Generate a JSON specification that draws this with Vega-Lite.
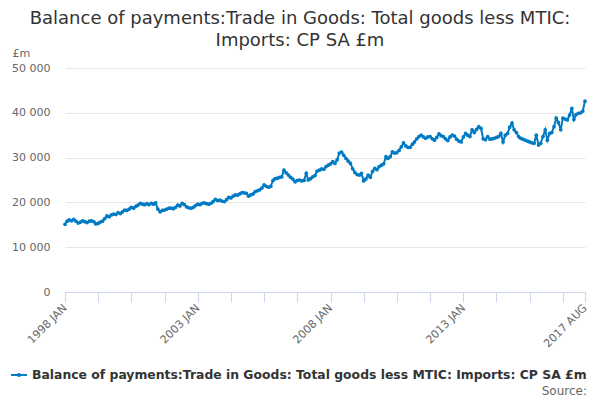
{
 "$schema": "https://vega.github.io/schema/vega-lite/v6.json",
 "width": 520, "height": 224,
 "autosize": {"type": "none"},
 "padding": {"left": 65, "top": 68, "right": 15, "bottom": 108},
 "background": "white",
 "config": {
  "font": "DejaVu Sans",
  "view": {"stroke": null},
  "locale": {"number": {"decimal": ".", "thousands": " ", "grouping": [3], "currency": ["£", ""]}}
 },
 "title": {
  "text": ["Balance of payments:Trade in Goods: Total goods less MTIC:", "Imports: CP SA £m"],
  "fontSize": 18, "fontWeight": "normal", "color": "#333333", "anchor": "middle", "dx": -25, "dy": 3, "offset": 0, "lineHeight": 22
 },
 "data": {"values": [
{"d":"1998-01-01","v":15100},{"d":"1998-02-01","v":15800},{"d":"1998-03-01","v":16100},{"d":"1998-04-01","v":15900},{"d":"1998-05-01","v":16200},{"d":"1998-06-01","v":15800},{"d":"1998-07-01","v":15400},{"d":"1998-08-01","v":15600},{"d":"1998-09-01","v":15900},{"d":"1998-10-01","v":15700},{"d":"1998-11-01","v":15500},{"d":"1998-12-01","v":15800},
{"d":"1999-01-01","v":15900},{"d":"1999-02-01","v":15700},{"d":"1999-03-01","v":15200},{"d":"1999-04-01","v":15300},{"d":"1999-05-01","v":15600},{"d":"1999-06-01","v":15800},{"d":"1999-07-01","v":16400},{"d":"1999-08-01","v":17000},{"d":"1999-09-01","v":16800},{"d":"1999-10-01","v":17200},{"d":"1999-11-01","v":17400},{"d":"1999-12-01","v":17300},
{"d":"2000-01-01","v":17700},{"d":"2000-02-01","v":17500},{"d":"2000-03-01","v":17900},{"d":"2000-04-01","v":18300},{"d":"2000-05-01","v":18200},{"d":"2000-06-01","v":18500},{"d":"2000-07-01","v":18900},{"d":"2000-08-01","v":18700},{"d":"2000-09-01","v":19100},{"d":"2000-10-01","v":19400},{"d":"2000-11-01","v":19800},{"d":"2000-12-01","v":19600},
{"d":"2001-01-01","v":19500},{"d":"2001-02-01","v":19700},{"d":"2001-03-01","v":19500},{"d":"2001-04-01","v":19800},{"d":"2001-05-01","v":19600},{"d":"2001-06-01","v":19900},{"d":"2001-07-01","v":18500},{"d":"2001-08-01","v":17900},{"d":"2001-09-01","v":18200},{"d":"2001-10-01","v":18300},{"d":"2001-11-01","v":18500},{"d":"2001-12-01","v":18700},
{"d":"2002-01-01","v":18700},{"d":"2002-02-01","v":18600},{"d":"2002-03-01","v":18900},{"d":"2002-04-01","v":19400},{"d":"2002-05-01","v":19200},{"d":"2002-06-01","v":19800},{"d":"2002-07-01","v":19500},{"d":"2002-08-01","v":19000},{"d":"2002-09-01","v":18800},{"d":"2002-10-01","v":18700},{"d":"2002-11-01","v":18900},{"d":"2002-12-01","v":19300},
{"d":"2003-01-01","v":19600},{"d":"2003-02-01","v":19500},{"d":"2003-03-01","v":19800},{"d":"2003-04-01","v":19900},{"d":"2003-05-01","v":19700},{"d":"2003-06-01","v":19600},{"d":"2003-07-01","v":19800},{"d":"2003-08-01","v":20200},{"d":"2003-09-01","v":20700},{"d":"2003-10-01","v":20400},{"d":"2003-11-01","v":20500},{"d":"2003-12-01","v":20300},
{"d":"2004-01-01","v":20200},{"d":"2004-02-01","v":20600},{"d":"2004-03-01","v":21100},{"d":"2004-04-01","v":21000},{"d":"2004-05-01","v":21400},{"d":"2004-06-01","v":21700},{"d":"2004-07-01","v":21600},{"d":"2004-08-01","v":21900},{"d":"2004-09-01","v":22200},{"d":"2004-10-01","v":22100},{"d":"2004-11-01","v":22000},{"d":"2004-12-01","v":21400},
{"d":"2005-01-01","v":21700},{"d":"2005-02-01","v":21900},{"d":"2005-03-01","v":22400},{"d":"2005-04-01","v":22600},{"d":"2005-05-01","v":22800},{"d":"2005-06-01","v":23200},{"d":"2005-07-01","v":23900},{"d":"2005-08-01","v":23600},{"d":"2005-09-01","v":23400},{"d":"2005-10-01","v":23600},{"d":"2005-11-01","v":24900},{"d":"2005-12-01","v":25300},
{"d":"2006-01-01","v":25400},{"d":"2006-02-01","v":25600},{"d":"2006-03-01","v":25700},{"d":"2006-04-01","v":27200},{"d":"2006-05-01","v":26600},{"d":"2006-06-01","v":26100},{"d":"2006-07-01","v":25600},{"d":"2006-08-01","v":25200},{"d":"2006-09-01","v":24600},{"d":"2006-10-01","v":24900},{"d":"2006-11-01","v":25000},{"d":"2006-12-01","v":24800},
{"d":"2007-01-01","v":24900},{"d":"2007-02-01","v":26500},{"d":"2007-03-01","v":25000},{"d":"2007-04-01","v":25300},{"d":"2007-05-01","v":25700},{"d":"2007-06-01","v":26000},{"d":"2007-07-01","v":27000},{"d":"2007-08-01","v":27200},{"d":"2007-09-01","v":27500},{"d":"2007-10-01","v":27400},{"d":"2007-11-01","v":28000},{"d":"2007-12-01","v":28300},
{"d":"2008-01-01","v":28600},{"d":"2008-02-01","v":29100},{"d":"2008-03-01","v":28700},{"d":"2008-04-01","v":29500},{"d":"2008-05-01","v":31000},{"d":"2008-06-01","v":31200},{"d":"2008-07-01","v":30500},{"d":"2008-08-01","v":29800},{"d":"2008-09-01","v":29200},{"d":"2008-10-01","v":28700},{"d":"2008-11-01","v":27500},{"d":"2008-12-01","v":26700},
{"d":"2009-01-01","v":26200},{"d":"2009-02-01","v":26100},{"d":"2009-03-01","v":26500},{"d":"2009-04-01","v":24800},{"d":"2009-05-01","v":25200},{"d":"2009-06-01","v":26100},{"d":"2009-07-01","v":25600},{"d":"2009-08-01","v":26900},{"d":"2009-09-01","v":27600},{"d":"2009-10-01","v":27300},{"d":"2009-11-01","v":28000},{"d":"2009-12-01","v":28300},
{"d":"2010-01-01","v":28600},{"d":"2010-02-01","v":30200},{"d":"2010-03-01","v":29800},{"d":"2010-04-01","v":30200},{"d":"2010-05-01","v":31300},{"d":"2010-06-01","v":31000},{"d":"2010-07-01","v":31100},{"d":"2010-08-01","v":31600},{"d":"2010-09-01","v":32400},{"d":"2010-10-01","v":33300},{"d":"2010-11-01","v":32600},{"d":"2010-12-01","v":32300},
{"d":"2011-01-01","v":32300},{"d":"2011-02-01","v":33000},{"d":"2011-03-01","v":33500},{"d":"2011-04-01","v":34200},{"d":"2011-05-01","v":34700},{"d":"2011-06-01","v":35000},{"d":"2011-07-01","v":34600},{"d":"2011-08-01","v":34300},{"d":"2011-09-01","v":34600},{"d":"2011-10-01","v":34700},{"d":"2011-11-01","v":34200},{"d":"2011-12-01","v":33900},
{"d":"2012-01-01","v":34500},{"d":"2012-02-01","v":35300},{"d":"2012-03-01","v":34900},{"d":"2012-04-01","v":34700},{"d":"2012-05-01","v":34200},{"d":"2012-06-01","v":33800},{"d":"2012-07-01","v":34600},{"d":"2012-08-01","v":35000},{"d":"2012-09-01","v":34800},{"d":"2012-10-01","v":34100},{"d":"2012-11-01","v":33700},{"d":"2012-12-01","v":33500},
{"d":"2013-01-01","v":34600},{"d":"2013-02-01","v":35400},{"d":"2013-03-01","v":35000},{"d":"2013-04-01","v":34700},{"d":"2013-05-01","v":36200},{"d":"2013-06-01","v":35600},{"d":"2013-07-01","v":36300},{"d":"2013-08-01","v":36900},{"d":"2013-09-01","v":36500},{"d":"2013-10-01","v":34200},{"d":"2013-11-01","v":34000},{"d":"2013-12-01","v":34700},
{"d":"2014-01-01","v":34100},{"d":"2014-02-01","v":34200},{"d":"2014-03-01","v":34300},{"d":"2014-04-01","v":34500},{"d":"2014-05-01","v":34700},{"d":"2014-06-01","v":35400},{"d":"2014-07-01","v":33500},{"d":"2014-08-01","v":35000},{"d":"2014-09-01","v":35400},{"d":"2014-10-01","v":36800},{"d":"2014-11-01","v":37700},{"d":"2014-12-01","v":36200},
{"d":"2015-01-01","v":35600},{"d":"2015-02-01","v":34700},{"d":"2015-03-01","v":34300},{"d":"2015-04-01","v":34100},{"d":"2015-05-01","v":33900},{"d":"2015-06-01","v":33700},{"d":"2015-07-01","v":33500},{"d":"2015-08-01","v":33300},{"d":"2015-09-01","v":33200},{"d":"2015-10-01","v":35000},{"d":"2015-11-01","v":32800},{"d":"2015-12-01","v":33200},
{"d":"2016-01-01","v":34700},{"d":"2016-02-01","v":36200},{"d":"2016-03-01","v":33900},{"d":"2016-04-01","v":35400},{"d":"2016-05-01","v":35600},{"d":"2016-06-01","v":36900},{"d":"2016-07-01","v":38800},{"d":"2016-08-01","v":37800},{"d":"2016-09-01","v":36200},{"d":"2016-10-01","v":38800},{"d":"2016-11-01","v":38600},{"d":"2016-12-01","v":38400},
{"d":"2017-01-01","v":39500},{"d":"2017-02-01","v":41000},{"d":"2017-03-01","v":38500},{"d":"2017-04-01","v":39600},{"d":"2017-05-01","v":39900},{"d":"2017-06-01","v":40000},{"d":"2017-07-01","v":40400},{"d":"2017-08-01","v":42600}
 ]},
 "mark": {"type": "line", "strokeWidth": 2, "point": {"size": 14, "filled": true}},
 "encoding": {
  "x": {
   "field": "d", "type": "temporal",
   "scale": {"type": "utc", "domain": [{"year": 1998, "month": 1, "date": 1, "utc": true}, {"year": 2017, "month": 8, "date": 1, "utc": true}]},
   "axis": {
    "title": null,
    "grid": false,
    "values": [
     {"year": 1998, "month": 1, "date": 1, "utc": true}, {"year": 1999, "month": 4, "date": 1, "utc": true},
     {"year": 2000, "month": 7, "date": 1, "utc": true}, {"year": 2001, "month": 10, "date": 1, "utc": true},
     {"year": 2003, "month": 1, "date": 1, "utc": true}, {"year": 2004, "month": 4, "date": 1, "utc": true},
     {"year": 2005, "month": 7, "date": 1, "utc": true}, {"year": 2006, "month": 10, "date": 1, "utc": true},
     {"year": 2008, "month": 1, "date": 1, "utc": true}, {"year": 2009, "month": 4, "date": 1, "utc": true},
     {"year": 2010, "month": 7, "date": 1, "utc": true}, {"year": 2011, "month": 10, "date": 1, "utc": true},
     {"year": 2013, "month": 1, "date": 1, "utc": true}, {"year": 2014, "month": 4, "date": 1, "utc": true},
     {"year": 2015, "month": 7, "date": 1, "utc": true}, {"year": 2016, "month": 10, "date": 1, "utc": true},
     {"year": 2017, "month": 8, "date": 1, "utc": true}
    ],
    "labelExpr": "(utcFormat(datum.value, '%m') == '01' || utcFormat(datum.value, '%Y-%m') == '2017-08') ? utcFormat(datum.value, '%Y ') + upper(utcFormat(datum.value, '%b')) : ''",
    "labelAngle": -45, "labelAlign": "right", "labelBaseline": "middle",
    "labelFontSize": 11, "labelColor": "#666666", "labelPadding": 4, "labelOverlap": false, "labelFlush": false,
    "domainColor": "#ccd6eb", "tickColor": "#ccd6eb", "tickSize": 10, "tickWidth": 1
   }
  },
  "y": {
   "field": "v", "type": "quantitative",
   "scale": {"domain": [0, 50000]},
   "axis": {
    "values": [0, 10000, 20000, 30000, 40000, 50000],
    "format": ",d",
    "title": "£m", "titleAngle": 0, "titleX": -53, "titleY": -15, "titleAlign": "left", "titleBaseline": "middle",
    "titleFontSize": 11, "titleFontWeight": "normal", "titleColor": "#666666",
    "domain": false, "ticks": false, "labelPadding": 15,
    "labelFontSize": 11, "labelColor": "#666666",
    "gridColor": "#e6e6e6"
   }
  },
  "color": {
   "datum": "Balance of payments:Trade in Goods: Total goods less MTIC: Imports: CP SA £m",
   "scale": {"range": ["#007ac3"]},
   "legend": {
    "orient": "none", "legendX": -55, "legendY": 298, "direction": "horizontal",
    "title": "Source:", "titleOrient": "bottom", "titleAnchor": "end", "titleFontWeight": "normal",
    "titleFontSize": 12, "titleColor": "#666666", "titlePadding": 5,
    "labelFontSize": 12.4, "labelFontWeight": "bold", "labelColor": "#333333", "labelLimit": 0,
    "symbolType": "M-1,0L1,0M-0.12,0A0.12,0.12 0 1,0 0.12,0A0.12,0.12 0 1,0 -0.12,0",
    "symbolFillColor": "#007ac3", "symbolStrokeColor": "#007ac3", "symbolStrokeWidth": 2, "symbolSize": 256
   }
  }
 }
}
